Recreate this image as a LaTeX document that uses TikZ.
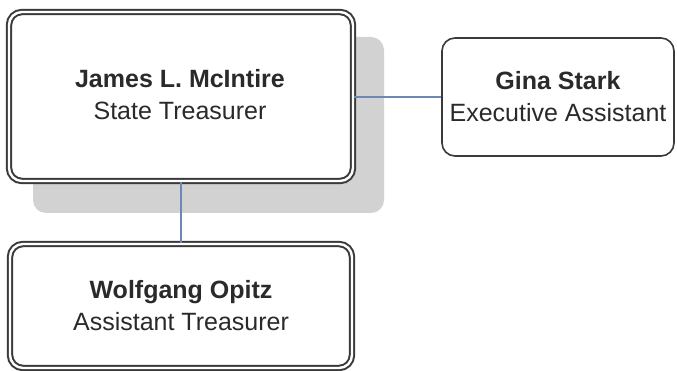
\documentclass[tikz,border=0pt]{standalone}
\usepackage{fontspec}
\setmainfont{Liberation Sans}
\definecolor{edge}{HTML}{3A3A3A}
\definecolor{link}{HTML}{6F87B3}
\definecolor{shadowgray}{HTML}{D2D2D2}
\definecolor{txt}{HTML}{2A2A2A}
\tikzset{
  dbox/.style={draw=edge, fill=white, line width=2pt, double=white, double distance=2.4pt,
    rounded corners=13pt, align=center, text=txt,
    font=\fontsize{25}{32}\selectfont, inner sep=0pt},
  sbox/.style={draw=edge, fill=white, line width=1.6pt, rounded corners=13pt, align=center,
    text=txt, font=\fontsize{25}{32}\selectfont, inner sep=0pt},
  conn/.style={draw=link, line width=1.5pt}
}
\begin{document}
\begin{tikzpicture}[x=1pt,y=-1pt]
\useasboundingbox (0,0) rectangle (677,371);
\fill[white] (0,0) rectangle (677,371);
% shadow
\fill[shadowgray, rounded corners=13pt] (33,37) rectangle (384,213);
% nodes
\node[dbox, minimum width=344pt, minimum height=169pt] (jm) at (181,96.5) {};
\node[align=center, text=txt, font=\fontsize{25}{32}\selectfont, inner sep=0pt] (jmt) at (180,94.5)
  {\textbf{James L. McIntire}\\State Treasurer};
\node[sbox, minimum width=232pt, minimum height=118pt] (gs) at (558,97)
  {\textbf{Gina Stark}\\Executive Assistant};
\node[dbox, minimum width=342pt, minimum height=124pt] (wo) at (181,306)
  {\textbf{Wolfgang Opitz}\\Assistant Treasurer};
% connectors
\draw[conn] (jm.east |- gs.west) -- (gs.west);
\draw[conn] (jm.south) -- (wo.north);
\end{tikzpicture}
\end{document}
